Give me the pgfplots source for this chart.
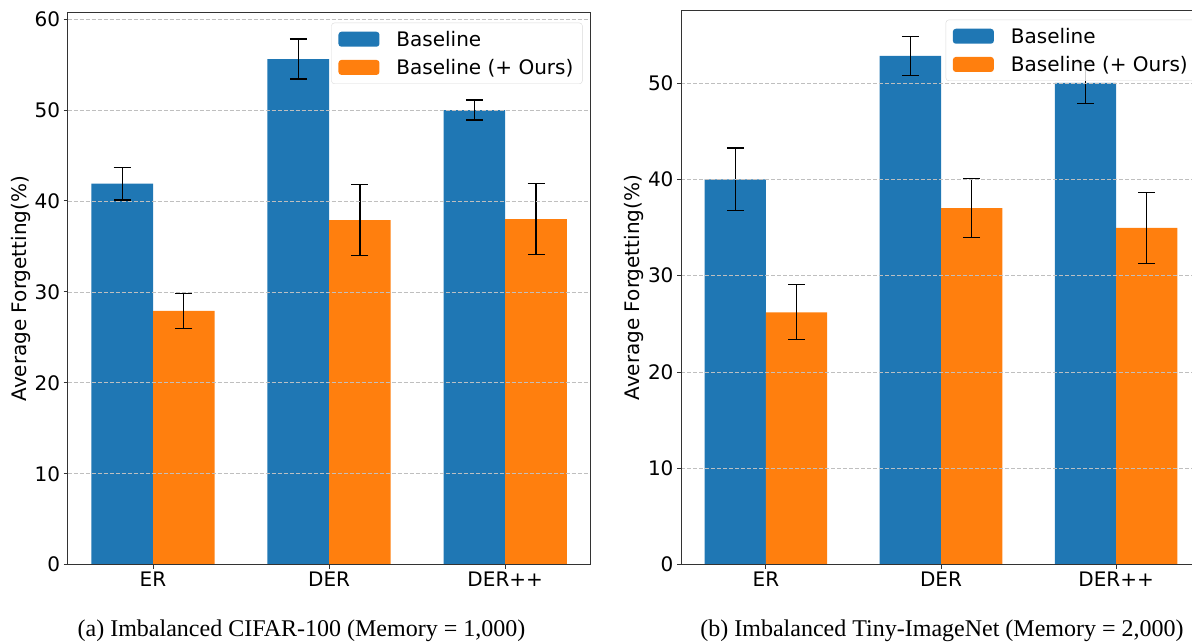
\documentclass[border=0pt]{standalone}
\usepackage{fontspec}
\setmainfont{Liberation Serif}
\newfontfamily\dejavu{DejaVu Sans}
\usepackage{pgfplots}
\pgfplotsset{compat=1.18}
\definecolor{cblue}{HTML}{1F77B4}
\definecolor{corange}{HTML}{FF7F0E}
\newcommand{\cf}{\dejavu\fontsize{20}{24}\selectfont}
\pgfplotsset{
  mystyle/.style={
    scale only axis,
    axis on top,
    xmin=-0.485, xmax=2.485, ymin=0,
    xtick={0,1,2}, xticklabels={ER,DER,DER++},
    tick align=outside, xtick pos=bottom, ytick pos=left,
    major tick length=4pt,
    tick style={black!80, line width=0.9pt},
    axis line style={black!80, line width=1pt},
    ymajorgrids,
    major grid style={gray!50, dash pattern=on 4pt off 2pt, line width=0.7pt},
    tick label style={font=\cf},
    /pgf/number format/assume math mode=true,
    ylabel={Average Forgetting(\%)},
    every axis y label/.style={at={(axis description cs:0,0.5)}, xshift=-47pt, rotate=90, anchor=center, font=\cf},
    legend cell align=left,
    legend style={anchor=north east, draw=black!15, rounded corners=3pt, fill=white, fill opacity=0.8, text opacity=1, draw opacity=1, font=\cf, inner xsep=7pt, inner ysep=6pt, row sep=7.5pt,
      /tikz/every odd column/.append style={column sep=15pt}},
    legend image code/.code={\fill[##1, draw=none, fill opacity=1] (0pt,-7.5pt) rectangle (41pt,7.5pt);},
  },
  barB/.style={ybar, bar width=0.35, bar shift=0pt, fill=cblue, draw=none,
    error bars/.cd, y dir=both, y explicit, error mark=|,
    error bar style={black, line width=1.3pt},
    error mark options={black, line width=1.3pt, mark size=8.5pt}},
  barO/.style={ybar, bar width=0.35, bar shift=0pt, fill=corange, draw=none,
    error bars/.cd, y dir=both, y explicit, error mark=|,
    error bar style={black, line width=1.3pt},
    error mark options={black, line width=1.3pt, mark size=8.5pt}},
}
\begin{document}
\begin{tikzpicture}
\useasboundingbox (0,0) rectangle (1192pt,641pt);
% (a)
\begin{axis}[mystyle, at={(67.6pt,76.3pt)}, anchor=south west,
  width=523pt, height=552pt, ymax=60.7, ytick={0,10,20,30,40,50,60},
  legend style={at={(1,1)}, xshift=-8pt, yshift=-10pt}]
\addplot[barB] coordinates {(-0.175,41.9) +- (0,1.8) (0.825,55.6) +- (0,2.2) (1.825,50.0) +- (0,1.1)};
\addlegendentry{Baseline}
\addplot[barO] coordinates {(0.175,27.9) +- (0,1.9) (1.175,37.9) +- (0,3.9) (2.175,38.0) +- (0,3.9)};
\addlegendentry{Baseline (+ Ours)}
\end{axis}
% (b)
\begin{axis}[mystyle, at={(681pt,76.3pt)}, anchor=south west,
  width=520pt, height=554pt, ymax=57.5, ytick={0,10,20,30,40,50},
  legend style={at={(1,1)}, xshift=-4pt, yshift=-9pt}]
\addplot[barB] coordinates {(-0.175,40.0) +- (0,3.25) (0.825,52.8) +- (0,2.0) (1.825,50.0) +- (0,2.1)};
\addlegendentry{Baseline}
\addplot[barO] coordinates {(0.175,26.2) +- (0,2.85) (1.175,37.0) +- (0,3.05) (2.175,34.95) +- (0,3.7)};
\addlegendentry{Baseline (+ Ours)}
\end{axis}
\node[anchor=base, font=\fontsize{24}{28}\selectfont, inner sep=0pt] at (301.5pt,5pt) {(a) Imbalanced CIFAR-100 (Memory = 1,000)};
\node[anchor=base, font=\fontsize{24}{28}\selectfont, inner sep=0pt] at (942pt,5pt) {(b) Imbalanced Tiny-ImageNet (Memory = 2,000)};
\end{tikzpicture}
\end{document}
